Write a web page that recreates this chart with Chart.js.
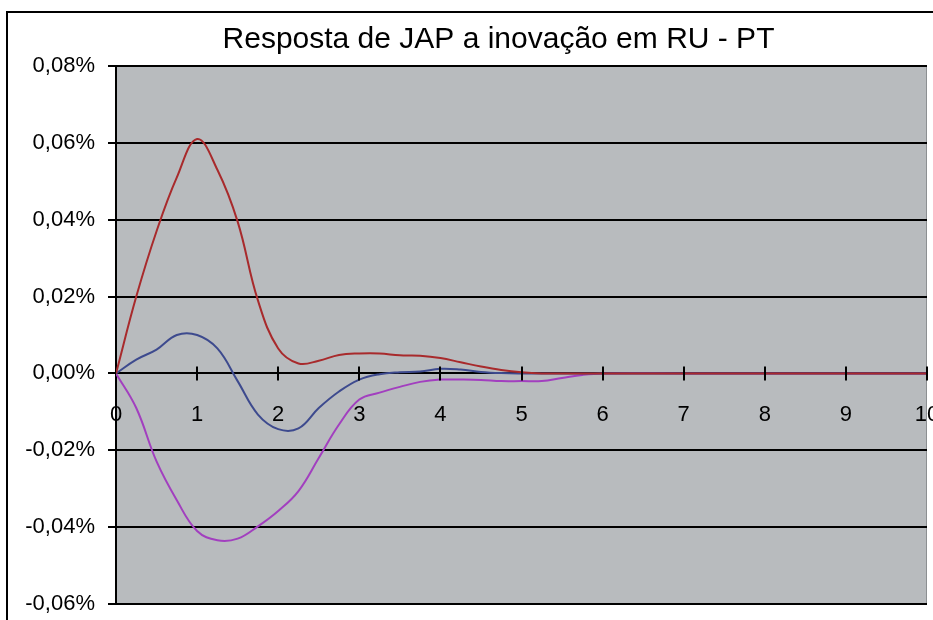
<!DOCTYPE html>
<html>
<head>
<meta charset="utf-8">
<script src="https://cdn.jsdelivr.net/npm/chart.js@4.4.1/dist/chart.umd.min.js"></script>
<style>
  html, body { margin: 0; padding: 0; background: #fff; }
  #wrap { width: 933px; height: 620px; position: relative; }
</style>
</head>
<body>
<div id="wrap"><canvas id="chart-irf"></canvas></div>
<script>
// periods after the shock (x axis)
const periods = [0, 0.25, 0.5, 0.75, 1, 1.25, 1.5, 1.75, 2, 2.25, 2.5, 2.75, 3, 3.25, 3.5, 3.75,
  4, 4.25, 4.5, 4.75, 5, 5.25, 5.5, 5.75, 6, 7, 8, 9, 10];

// responses, in %
const redSeries = [0, 0.020, 0.037, 0.051, 0.061, 0.053, 0.0395, 0.019, 0.0065, 0.0026, 0.0033, 0.0048, 0.0052,
  0.0052, 0.0047, 0.0046, 0.0040, 0.0029, 0.0018, 0.0009, 0.0003, 0, 0, 0, 0, 0, 0, 0, 0];
const blueSeries = [0, 0.0036, 0.0062, 0.0100, 0.0100, 0.0065, -0.0020, -0.0107, -0.0145, -0.0143, -0.0090, -0.0047, -0.0016,
  -0.0002, 0.0003, 0.0005, 0.0012, 0.0010, 0.0004, 0.0001, 0, 0, 0, 0, 0, 0, 0, 0, 0];
const purpleSeries = [0, -0.009, -0.0229, -0.033, -0.041, -0.0434, -0.043, -0.0398, -0.0358, -0.0306, -0.022, -0.0133, -0.0068,
  -0.005, -0.0035, -0.0022, -0.0016, -0.0016, -0.0017, -0.0020, -0.0020, -0.0020, -0.0012, -0.0004, 0, 0, 0, 0, 0];

const xTicks = [0, 1, 2, 3, 4, 5, 6, 7, 8, 9, 10];
const yTicks = [-0.06, -0.04, -0.02, 0, 0.02, 0.04, 0.06, 0.08];

function toPoints(values) {
  return periods.map((p, i) => ({ x: p, y: values[i] }));
}

function fmtPct(v) {
  const r = Math.round(v * 100) / 100;
  return (r === 0 ? "0,00" : r.toFixed(2).replace(".", ",")) + "%";
}

// gray plot area + outer frame
const framePlugin = {
  id: "frame",
  afterLayout(chart) {
    // title is centred a bit right of the canvas centre
    if (chart.titleBlock) chart.titleBlock.left = 70;
  },
  beforeDraw(chart) {
    const { ctx, chartArea: a } = chart;
    ctx.save();
    ctx.fillStyle = "#fff";
    ctx.fillRect(0, 0, chart.width, chart.height);
    ctx.strokeStyle = "#000";
    ctx.lineWidth = 2;
    ctx.beginPath();
    ctx.moveTo(7, chart.height + 2);
    ctx.lineTo(7, 12);
    ctx.lineTo(chart.width + 2, 12);
    ctx.stroke();
    ctx.fillStyle = "#b8bbbe";
    ctx.fillRect(a.left, a.top, a.right - a.left, a.bottom - a.top);
    ctx.strokeStyle = "#8c8f92";
    ctx.lineWidth = 1;
    ctx.strokeRect(a.left + 0.5, a.top + 0.5, a.right - a.left - 1, a.bottom - a.top);
    ctx.restore();
  },
  afterDatasetsDraw(chart) {
    // tick marks crossing the zero line
    const { ctx, scales } = chart;
    const y0 = scales.y.getPixelForValue(0);
    ctx.save();
    ctx.strokeStyle = "#000";
    ctx.lineWidth = 2;
    xTicks.forEach((t) => {
      if (t === 0) return;
      const px = Math.round(scales.x.getPixelForValue(t));
      ctx.beginPath();
      ctx.moveTo(px, y0 - 7);
      ctx.lineTo(px, y0 + 7);
      ctx.stroke();
    });
    ctx.restore();
  },
};

const lineStyle = { borderWidth: 2, pointRadius: 0, tension: 0.4, fill: false };

var ctx = document.getElementById("chart-irf").getContext("2d");
var chart = new Chart(ctx, {
  type: "line",
  plugins: [framePlugin],
  data: {
    datasets: [
      { label: "red", data: toPoints(redSeries), borderColor: "#a82a2c", ...lineStyle },
      { label: "blue", data: toPoints(blueSeries), borderColor: "#3d4a8e", ...lineStyle },
      { label: "purple", data: toPoints(purpleSeries), borderColor: "#a23fbf", ...lineStyle },
    ],
  },
  options: {
    responsive: true,
    maintainAspectRatio: false,
    animation: false,
    layout: { padding: { left: 8, right: 6, top: 0, bottom: 16 } },
    plugins: {
      legend: { display: false },
      tooltip: { enabled: false },
      title: {
        display: true,
        text: "Resposta de JAP a inovação em RU - PT",
        color: "#000",
        font: { family: "Liberation Sans", size: 30, weight: "normal" },
        padding: { top: 22, bottom: 8 },
      },
    },
    scales: {
      x: {
        type: "linear",
        position: { y: 0 },
        min: 0,
        max: 10,
        afterBuildTicks(scale) {
          scale.ticks = xTicks.map((v) => ({ value: v }));
        },
        afterFit(scale) {
          scale.paddingLeft = 0;
          scale.paddingRight = 0;
        },
        grid: { display: false, drawTicks: false },
        border: { display: false },
        ticks: {
          color: "#000",
          padding: 28,
          maxRotation: 0,
          autoSkip: false,
          font: { family: "Liberation Sans", size: 22 },
        },
      },
      y: {
        min: -0.06,
        max: 0.08,
        afterBuildTicks(scale) {
          scale.ticks = yTicks.map((v) => ({ value: v }));
        },
        afterFit(scale) {
          scale.width = 108;
          scale.paddingTop = 0;
          scale.paddingBottom = 0;
        },
        grid: {
          color: "#000",
          lineWidth: 2,
          drawTicks: true,
          tickLength: 8,
        },
        border: { display: true, color: "#000", width: 2 },
        ticks: {
          color: "#000",
          padding: 13,
          font: { family: "Liberation Sans", size: 22 },
          callback: function (value) {
            return fmtPct(value);
          },
        },
      },
    },
  },
});
</script>
</body>
</html>
